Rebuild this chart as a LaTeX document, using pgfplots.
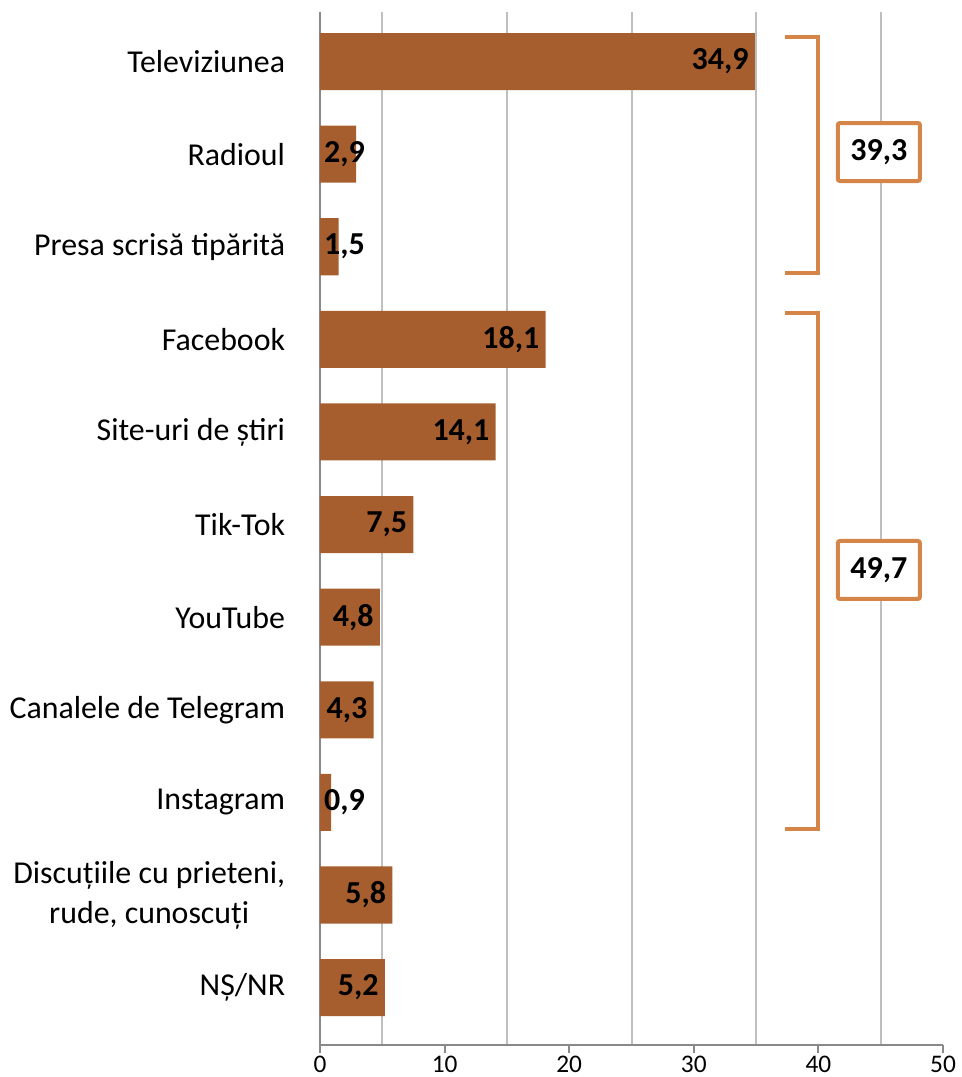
\documentclass[border=0pt]{standalone}
\usepackage{fontspec}
\setmainfont{Carlito}
\usepackage{pgfplots}
\pgfplotsset{compat=1.18}

\definecolor{barc}{RGB}{166,94,46}
\definecolor{brk}{RGB}{214,133,72}
\definecolor{gridc}{RGB}{191,191,191}
\definecolor{axc}{RGB}{137,137,137}

% bar values (y = category index, top to bottom)
\pgfplotstableread{
v y
34.9 0
2.9 1
1.5 2
18.1 3
14.1 4
7.5 5
4.8 6
4.3 7
0.9 8
5.8 9
5.2 10
}\bars

% label positions: labels of short bars sit just beyond the bar
\pgfplotstableread{
x y v
34.9 0 34.9
4.1 1 2.9
4.1 2 1.5
18.1 3 18.1
14.1 4 14.1
7.5 5 7.5
4.8 6 4.8
4.3 7 4.3
4.1 8 0.9
5.8 9 5.8
5.2 10 5.2
}\labs

\begin{document}
\begin{tikzpicture}
\useasboundingbox (-240pt,-24pt) rectangle (480.75pt,783.75pt);
\begin{axis}[
    name=ax,
    scale only axis,
    width=467.25pt, height=774.75pt,
    xmin=0, xmax=50,
    ymin=-0.535, ymax=10.62,
    y dir=reverse,
    axis lines*=left,
    axis line style={draw=axc, line width=1.5pt},
    xtick={0,10,...,50},
    minor xtick={5,15,25,35,45},
    xminorgrids,
    minor grid style={draw=gridc, line width=1.5pt},
    minor tick length=0pt,
    tick align=outside,
    major tick length=6pt,
    xtick style={draw=axc, line width=1.5pt},
    ytick={0,...,10},
    ytick style={draw=none},
    yticklabels={Televiziunea, Radioul, Presa scrisă tipărită, Facebook,
        Site-uri de știri, Tik-Tok, YouTube, Canalele de Telegram, Instagram,
        {Discuțiile cu prieteni,\\rude, cunoscuți}, NȘ/NR},
    yticklabel style={font=\fontsize{23.9}{30}\selectfont, align=center,
        inner sep=0pt, xshift=-20pt},
    xticklabel style={font=\fontsize{19}{22}\selectfont, inner sep=0pt,
        yshift=-2pt},
    /pgf/number format/assume math mode=true,
    clip=false,
]
\addplot[xbar, bar width=0.616, fill=barc, draw=none] table[x=v, y=y] {\bars};

\addplot[draw=none, mark=none, point meta=explicit,
    nodes near coords={\pgfmathprintnumber[fixed,fixed zerofill,precision=1,use comma]{\pgfplotspointmeta}},
    nodes near coords style={anchor=east, inner sep=0pt, xshift=-4.5pt,
        font=\fontsize{24}{28}\selectfont\bfseries, text=black}]
    table[x=x, y=y, meta=v] {\labs};

% brackets grouping traditional media and online sources
\draw[brk, line width=3pt] (axis cs:37.3,-0.268) -| (axis cs:40,2.284) -- (axis cs:37.3,2.284);
\draw[brk, line width=3pt] (axis cs:37.3,2.716) -| (axis cs:40,8.29) -- (axis cs:37.3,8.29);

\node[draw=brk, line width=3pt, rounded corners=1.5pt, fill=white,
    minimum width=61.5pt, minimum height=43.5pt, inner sep=0pt,
    font=\fontsize{24}{28}\selectfont\bfseries] at (axis cs:44.85,0.977) {39,3};
\node[draw=brk, line width=3pt, rounded corners=1.5pt, fill=white,
    minimum width=61.5pt, minimum height=43.5pt, inner sep=0pt,
    font=\fontsize{24}{28}\selectfont\bfseries] at (axis cs:44.85,5.49) {49,7};
\end{axis}
\end{tikzpicture}
\end{document}
